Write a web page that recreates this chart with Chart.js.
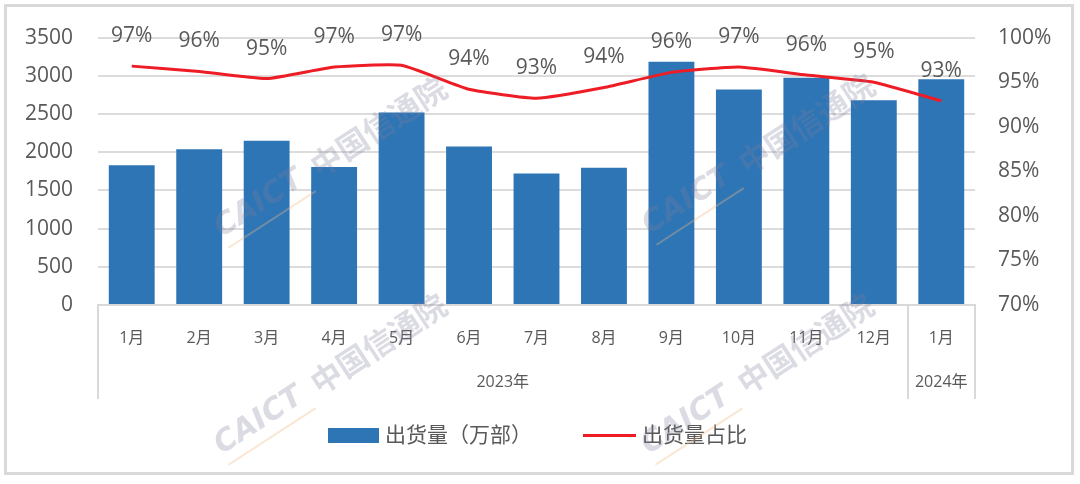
<!DOCTYPE html>
<html>
<head>
<meta charset="utf-8">
<script src="https://cdn.jsdelivr.net/npm/chart.js@4.4.0/dist/chart.umd.min.js"></script>
<style>
  html, body { margin: 0; padding: 0; background: #fff; }
  #wrap { width: 1080px; height: 484px; }
</style>
</head>
<body>
<div id="wrap"><canvas id="chart" width="1080" height="484"></canvas></div>
<script>
// data
const months = ['1月', '2月', '3月', '4月', '5月', '6月', '7月', '8月', '9月', '10月', '11月', '12月', '1月'];
const yearLabels = ['2023年', '2024年'];
const yearSpans = [12, 1];
const shipments = [1830, 2040, 2150, 1805, 2520, 2076, 1720, 1795, 3185, 2820, 2975, 2680, 2955];
const shareValues = [0.968, 0.962, 0.954, 0.967, 0.969, 0.942, 0.932, 0.944, 0.961, 0.967, 0.958, 0.950, 0.929];
const legendNames = ['出货量（万部）', '出货量占比'];

const FONT = '"Open Sans", "Noto Sans CJK SC", sans-serif';
const GREY = '#595959';
const BLUE = '#2E75B6';
const RED = '#EE1C25';

// frame, watermarks, year row, labels and legend
const extras = {
  id: 'extras',
  afterDatasetsDraw(chart) {
    const ctx = chart.ctx;
    const x = chart.scales.x;
    const area = chart.chartArea;
    const half = (x.getPixelForValue(1) - x.getPixelForValue(0)) / 2;

    ctx.save();
    // group separators and year names
    ctx.strokeStyle = '#D9D9D9';
    ctx.lineWidth = 2;
    ctx.fillStyle = GREY;
    ctx.font = '16px ' + FONT;
    ctx.textAlign = 'center';
    ctx.textBaseline = 'middle';
    let start = 0;
    for (let g = 0; g < yearLabels.length; g++) {
      const left = x.getPixelForValue(start) - half;
      const right = x.getPixelForValue(start + yearSpans[g] - 1) + half;
      ctx.beginPath();
      ctx.moveTo(Math.round(left), area.bottom);
      ctx.lineTo(Math.round(left), 399);
      ctx.stroke();
      if (g === yearLabels.length - 1) {
        ctx.beginPath();
        ctx.moveTo(Math.round(right), area.bottom);
        ctx.lineTo(Math.round(right), 399);
        ctx.stroke();
      }
      ctx.fillText(yearLabels[g], (left + right) / 2, 382);
      start += yearSpans[g];
    }

    // data labels above the line
    const meta = chart.getDatasetMeta(1);
    ctx.font = '21px ' + FONT;
    meta.data.forEach((pt, i) => {
      ctx.fillText(Math.round(shareValues[i] * 100) + '%', pt.x, pt.y - 30);
    });

    // legend
    ctx.fillStyle = BLUE;
    ctx.fillRect(328, 428, 51, 15);
    ctx.strokeStyle = RED;
    ctx.lineWidth = 3;
    ctx.beginPath();
    ctx.moveTo(583, 435.5);
    ctx.lineTo(636, 435.5);
    ctx.stroke();
    ctx.fillStyle = GREY;
    ctx.textAlign = 'left';
    ctx.font = '21px ' + FONT;
    ctx.fillText(legendNames[0], 385, 436);
    ctx.fillText(legendNames[1], 642, 436);

    // watermarks
    const marks = [[330, 158], [758, 155], [330, 375], [757, 375]];
    marks.forEach(([cx, cy]) => {
      ctx.save();
      ctx.translate(cx, cy);
      ctx.rotate(-33 * Math.PI / 180);
      ctx.globalAlpha = 0.28;
      ctx.fillStyle = '#7D7D9A';
      ctx.textAlign = 'left';
      ctx.font = 'italic bold 30px "DejaVu Sans", sans-serif';
      ctx.fillText('CAICT', -134, 0);
      ctx.font = 'bold 31px "Noto Sans CJK SC", sans-serif';
      ctx.fillText('中国信通院', -20, 0);
      ctx.globalAlpha = 0.35;
      ctx.strokeStyle = '#F2B880';
      ctx.lineWidth = 2;
      ctx.beginPath();
      ctx.moveTo(-134, 20);
      ctx.lineTo(-30, 20);
      ctx.stroke();
      ctx.restore();
    });

    // outer frame
    ctx.strokeStyle = '#D9D9D9';
    ctx.lineWidth = 3;
    ctx.strokeRect(5.5, 5.5, 1067, 468);
    ctx.restore();
  }
};

new Chart(document.getElementById('chart'), {
  data: {
    labels: months,
    datasets: [
      {
        type: 'bar',
        label: legendNames[0],
        data: shipments,
        backgroundColor: BLUE,
        borderWidth: 0,
        categoryPercentage: 1,
        barPercentage: 0.68,
        yAxisID: 'y',
        order: 1
      },
      {
        type: 'line',
        label: legendNames[1],
        data: shareValues,
        borderColor: RED,
        borderWidth: 3,
        pointRadius: 0,
        tension: 0.15,
        fill: false,
        yAxisID: 'y1',
        order: 0
      }
    ]
  },
  options: {
    responsive: false,
    animation: false,
    devicePixelRatio: 1,
    layout: { padding: { top: 36, left: 0, right: 0, bottom: 0 } },
    plugins: { legend: { display: false }, tooltip: { enabled: false } },
    scales: {
      x: {
        grid: { display: false },
        border: { display: true, color: '#D9D9D9', width: 2 },
        ticks: { color: GREY, font: { family: FONT, size: 16 }, padding: 16, maxRotation: 0, autoSkip: false },
        afterFit(s) { s.height = 179; }
      },
      y: {
        position: 'left',
        min: 0,
        max: 3500,
        grid: { color: '#DCDCDC', lineWidth: 2, drawTicks: false },
        border: { display: false },
        ticks: { stepSize: 500, color: GREY, font: { family: FONT, size: 21 }, padding: 25, callback: v => String(v) },
        afterFit(s) { s.width = 98; }
      },
      y1: {
        position: 'right',
        min: 0.7,
        max: 1.0,
        grid: { display: false, drawTicks: false },
        border: { display: false },
        ticks: {
          stepSize: 0.05,
          color: GREY,
          font: { family: FONT, size: 21 },
          padding: 23,
          callback: v => Math.round(v * 100) + '%'
        },
        afterFit(s) { s.width = 105; }
      }
    }
  },
  plugins: [extras]
});
</script>
</body>
</html>
